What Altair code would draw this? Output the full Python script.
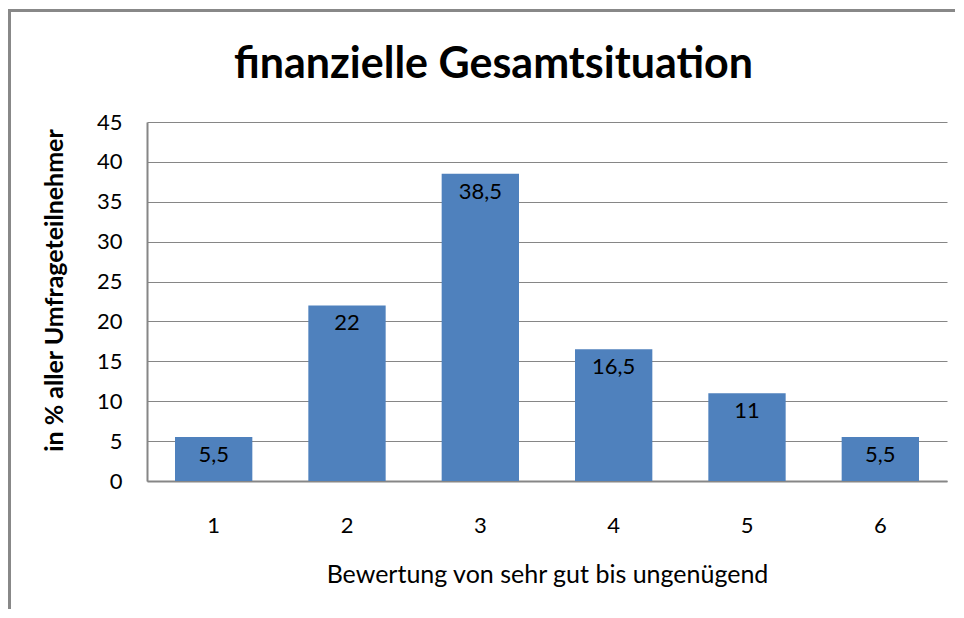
import altair as alt
import pandas as pd

categories = ["1", "2", "3", "4", "5", "6"]
values = [5.5, 22, 38.5, 16.5, 11, 5.5]
value_labels = ["5,5", "22", "38,5", "16,5", "11", "5,5"]
y_ticks = [0, 5, 10, 15, 20, 25, 30, 35, 40, 45]
title_text = "finanzielle Gesamtsituation"

FONT = "Lato"
GRID = "#868686"

df = pd.DataFrame({"cat": categories, "val": values, "lab": value_labels})

W, H = 800, 359

x_enc = alt.X(
    "cat:N",
    sort=categories,
    scale=alt.Scale(paddingInner=0.42, paddingOuter=0.21),
    axis=alt.Axis(
        title="Bewertung von sehr gut bis ungenügend",
        labelAngle=0,
        ticks=False,
        tickSize=0,
        labelPadding=51,
        labelBaseline="alphabetic",
        labelFont=FONT,
        labelFontSize=22,
        labelColor="#000000",
        titleFont=FONT,
        titleFontSize=25,
        titleFontWeight="normal",
        titleColor="#000000",
        titleX=400,
        titleY=101,
        titleBaseline="alphabetic",
        domainColor=GRID,
        domainWidth=2,
        grid=False,
    ),
)

y_enc = alt.Y(
    "val:Q",
    scale=alt.Scale(domain=[0, 45], nice=False),
    axis=alt.Axis(
        values=y_ticks,
        title="in % aller Umfrageteilnehmer",
        ticks=False,
        tickSize=0,
        labelPadding=25,
        labelOverlap=False,
        labelFont=FONT,
        labelFontSize=22,
        labelColor="#000000",
        titleFont=FONT,
        titleFontSize=25,
        titleFontWeight="bold",
        titleColor="#000000",
        titleX=-80,
        titleY=168,
        domainColor=GRID,
        domainWidth=2,
        grid=True,
        gridColor=GRID,
        gridWidth=1,
    ),
)

base = alt.Chart(df)

bars = base.mark_bar(color="#4F81BD").encode(x=x_enc, y=y_enc)

texts = base.mark_text(
    baseline="top", dy=8, font=FONT, fontSize=22, color="#000000"
).encode(x=x_enc, y=y_enc, text="lab:N")

frame_df = pd.DataFrame({"k": [0]})
top_line = alt.Chart(frame_df).mark_rule(color="#888888", strokeWidth=3).encode(
    x=alt.value(-137.5), x2=alt.value(820), y=alt.value(-111.5)
)
left_line = alt.Chart(frame_df).mark_rule(color="#888888", strokeWidth=3).encode(
    x=alt.value(-137.5), y=alt.value(-113), y2=alt.value(520)
)
title_df = pd.DataFrame({"t": [title_text]})
title_mark = alt.Chart(title_df).mark_text(
    font=FONT, fontSize=43, fontWeight="bold", color="#000000",
    align="center", baseline="alphabetic"
).encode(x=alt.value(346.5), y=alt.value(-44), text="t:N")

chart = (
    alt.layer(bars, texts, top_line, left_line, title_mark)
    .properties(
        width=W,
        height=H,
        autosize=alt.AutoSizeParams(type="none"),
        padding={"left": 139, "top": 114, "right": 8, "bottom": 128},
        background="#ffffff",
    )
    .configure_view(stroke=None)
)

chart.save("out.html", embed_options={"renderer": "svg", "actions": False})
